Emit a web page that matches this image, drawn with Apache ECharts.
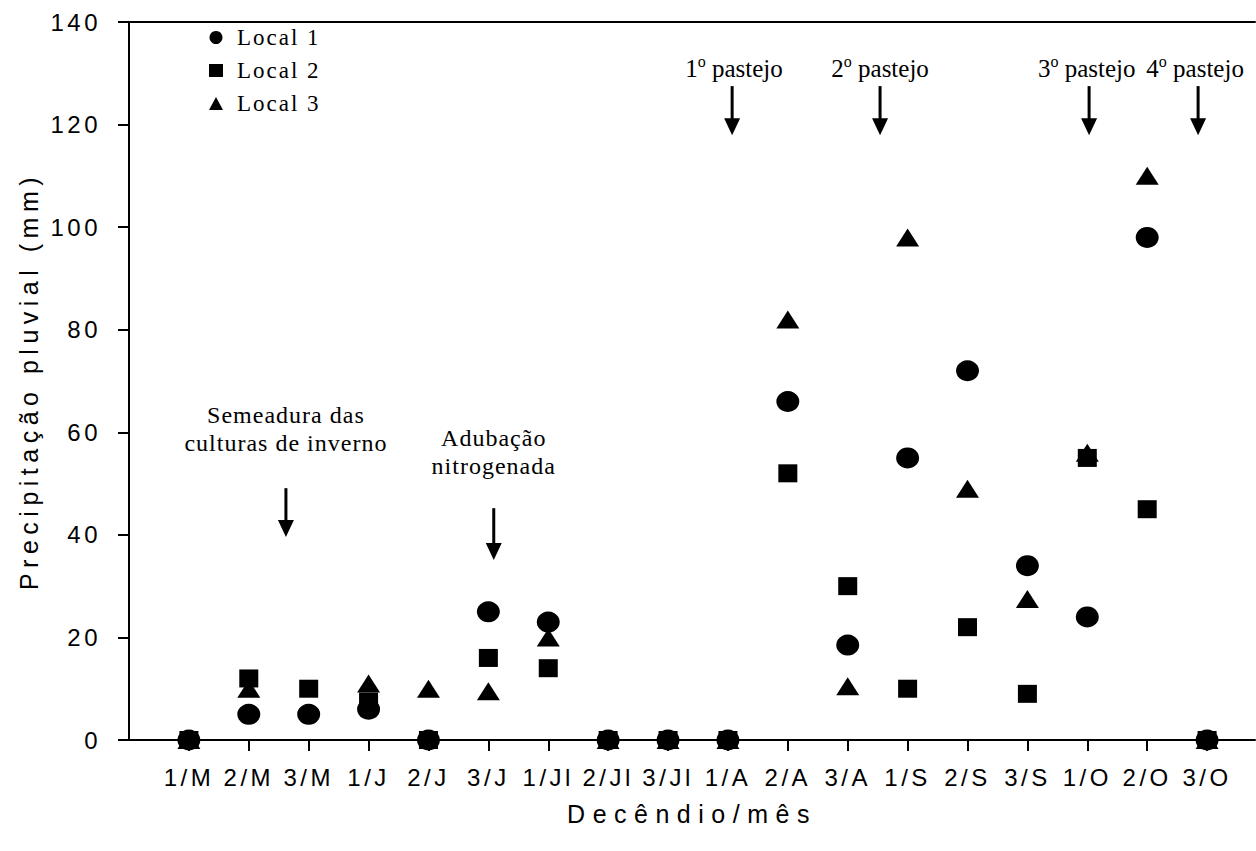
<!DOCTYPE html>
<html><head><meta charset="utf-8">
<script src="https://cdn.jsdelivr.net/npm/echarts@6/dist/echarts.min.js"></script>
<style>html,body{margin:0;padding:0;background:#fff}#chart{width:1256px;height:851px}</style>
</head><body><div id="chart"></div>
<script>
// ---- data ----
const categories = ['1/M','2/M','3/M','1/J','2/J','3/J','1/Jl','2/Jl','3/Jl','1/A','2/A','3/A','1/S','2/S','3/S','1/O','2/O','3/O'];
const local1 = [0, 5, 5, 6, 0, 25, 23, 0, 0, 0, 66, 18.5, 55, 72, 34, 24, 98, 0];
const local2 = [0, 12, 10, 7.5, 0, 16, 14, 0, 0, 0, 52, 30, 10, 22, 9, 55, 45, 0];
const local3 = [0, 10, null, 11, 10, 9.5, 20, 0, 0, 0, 82, 10.5, 98, 49, 27.5, 56, 110, 0];
const seriesNames = ['Local 1', 'Local 2', 'Local 3'];
const yTickValues = [0, 20, 40, 60, 80, 100, 120, 140];

// ---- annotations (data coordinates) ----
const notes = [
  {lines: ['{n|1}{s|o}{n|\u00a0pastejo}'], x: 10.10, y: 131.0, ax: 10.07, top: 127.5, bottom: 117.9},
  {lines: ['{n|2}{s|o}{n|\u00a0pastejo}'], x: 12.54, y: 131.0, ax: 12.54, top: 127.5, bottom: 117.9},
  {lines: ['{n|3}{s|o}{n|\u00a0pastejo}'], x: 15.99, y: 131.0, ax: 16.03, top: 127.5, bottom: 117.9},
  {lines: ['{n|4}{s|o}{n|\u00a0pastejo}'], x: 17.8, y: 131.0, ax: 17.85, top: 127.5, bottom: 117.9},
  {lines: ['Semeadura das', 'culturas de inverno'], x: 2.62, y: 63.4, ax: 2.62, top: 49.1, bottom: 39.6},
  {lines: ['Adubação', 'nitrogenada'], x: 6.09, y: 58.9, ax: 6.09, top: 45.2, bottom: 35.1}
];
const LINE_STEP = 5.5; // value units between annotation lines

const X_MAX = 18.8;
const positions = categories.map((c, i) => i + 1);
function toPoints(vals) {
  const out = [];
  vals.forEach((v, i) => { if (v !== null && v !== undefined) out.push([i + 1, v]); });
  return out;
}

const chart = echarts.init(document.getElementById('chart'), null, {renderer: 'svg', width: 1256, height: 851});
const axisLineStyle = {color: '#000', width: 2};
const sans = 'Liberation Sans';
const serif = 'Liberation Serif';

const option = {
  animation: false,
  backgroundColor: '#fff',
  grid: {left: 129, top: 22, right: 1, bottom: 111, containLabel: false},
  legend: {
    orient: 'vertical', left: 204, top: 21, itemGap: 10, itemWidth: 14, itemHeight: 13,
    data: seriesNames,
    textStyle: {fontFamily: serif, fontSize: 23, color: '#000', padding: [0, 0, 0, 9]},
    selectedMode: false
  },
  xAxis: [{
    type: 'value', min: 0, max: X_MAX, interval: 1, position: 'bottom',
    axisLine: {onZero: false, lineStyle: axisLineStyle},
    axisTick: {show: true, inside: false, length: 11, lineStyle: axisLineStyle, customValues: positions},
    axisLabel: {customValues: positions, formatter: v => categories[Math.round(v) - 1] || '',
      fontFamily: sans, fontSize: 24, color: '#000', margin: 25},
    splitLine: {show: false},
    name: 'Decêndio/mês', nameLocation: 'middle', nameGap: 61, nameMoveOverlap: false,
    nameTextStyle: {fontFamily: sans, fontSize: 25, color: '#000'}
  }, {
    type: 'value', min: 0, max: X_MAX, position: 'top',
    axisLine: {onZero: false, lineStyle: axisLineStyle},
    axisTick: {show: false}, axisLabel: {show: false}, splitLine: {show: false}
  }],
  yAxis: {
    type: 'value', min: 0, max: 140, interval: 20,
    axisLine: {show: true, onZero: false, lineStyle: axisLineStyle},
    axisTick: {show: true, inside: false, length: 11, lineStyle: axisLineStyle},
    axisLabel: {fontFamily: sans, fontSize: 24, color: '#000', margin: 28,
      formatter: v => (yTickValues.indexOf(v) >= 0 ? String(v) : '')},
    splitLine: {show: false},
    name: 'Precipitação pluvial (mm)', nameLocation: 'middle', nameGap: 88, nameMoveOverlap: false,
    nameTextStyle: {fontFamily: sans, fontSize: 25, color: '#000'}
  },
  series: [
    {name: seriesNames[0], type: 'scatter', symbol: 'circle', symbolSize: [23, 21], z: 4,
      itemStyle: {color: '#000', opacity: 1}, data: toPoints(local1)},
    {name: seriesNames[1], type: 'scatter', symbol: 'rect', symbolSize: [19, 18], z: 3,
      itemStyle: {color: '#000', opacity: 1}, data: toPoints(local2)},
    {name: seriesNames[2], type: 'scatter', symbol: 'triangle', symbolSize: [23, 18], z: 2,
      itemStyle: {color: '#000', opacity: 1}, data: toPoints(local3)}
  ]
};
chart.setOption(option);

// ---- annotations placed through the chart's own coordinate system ----
const graphics = [];
const richStyle = {
  n: {fontFamily: serif, fontSize: 25, color: '#000', lineHeight: 29},
  s: {fontFamily: serif, fontSize: 16, color: '#000', verticalAlign: 'top', lineHeight: 29}
};
notes.forEach(nt => {
  nt.lines.forEach((ln, k) => {
    const p = chart.convertToPixel({gridIndex: 0}, [nt.x, nt.y - k * LINE_STEP]);
    graphics.push({
      type: 'text', x: p[0], y: p[1], z: 10,
      style: {text: ln, rich: richStyle, fontFamily: serif, fontSize: 24, fill: '#000',
        align: 'center', verticalAlign: 'middle', textAlign: 'center', textVerticalAlign: 'middle'}
    });
  });
  const t = chart.convertToPixel({gridIndex: 0}, [nt.ax, nt.top]);
  const b = chart.convertToPixel({gridIndex: 0}, [nt.ax, nt.bottom]);
  const headH = 17, headW = 8;
  graphics.push({type: 'line', z: 10, shape: {x1: t[0], y1: t[1], x2: b[0], y2: b[1] - headH + 1},
    style: {stroke: '#000', lineWidth: 3}});
  graphics.push({type: 'polygon', z: 10, shape: {points: [[b[0] - headW, b[1] - headH], [b[0] + headW, b[1] - headH], [b[0], b[1]]]},
    style: {fill: '#000'}});
});
chart.setOption({graphic: {elements: graphics}});

// ---- letter spacing like the original figure ----
const spacing = {};
categories.forEach(c => { spacing[c] = 3.5; });
yTickValues.forEach(v => { spacing[String(v)] = 3.5; });
seriesNames.forEach(n => { spacing[n] = 2; });
spacing['Decêndio/mês'] = 7.5;
spacing['Precipitação pluvial (mm)'] = 5.5;
['Semeadura das', 'culturas de inverno', 'Adubação', 'nitrogenada'].forEach(s => { spacing[s] = 1; });
function applySpacing() {
  document.querySelectorAll('#chart svg text').forEach(t => {
    const ls = spacing[(t.textContent || '').trim()];
    if (ls) t.style.letterSpacing = ls + 'px';
  });
}
applySpacing();
chart.on('rendered', applySpacing);
</script>
</body></html>
